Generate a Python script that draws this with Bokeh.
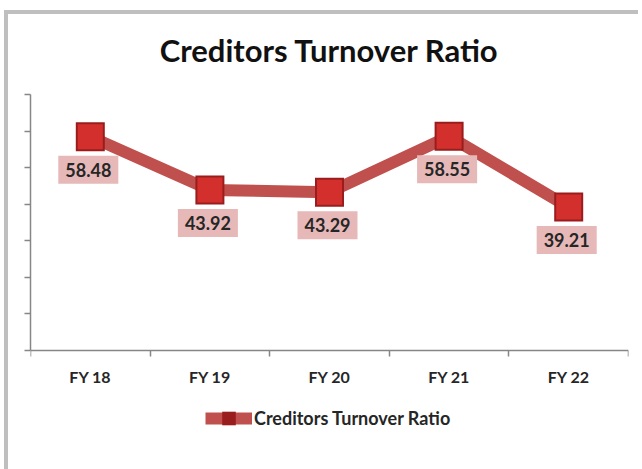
from bokeh.plotting import figure
from bokeh.models import (Range1d, FixedTicker, Legend, LegendItem, ColumnDataSource, Label)
from bokeh.embed import file_html
from bokeh.resources import INLINE

# ---- data ----
categories = ["FY 18", "FY 19", "FY 20", "FY 21", "FY 22"]
values = [58.48, 43.92, 43.29, 58.55, 39.21]
title_text = "Creditors Turnover Ratio"
series_name = "Creditors Turnover Ratio"
y_ticks = [0, 10, 20, 30, 40, 50, 60, 70]

FONT = "Lato"
TXT = "#262626"
LINE = "#c0504d"

xs = [i + 0.5 for i in range(len(categories))]
src = ColumnDataSource(dict(x=xs, y=values, cat=categories))

# frame extends below the value axis so the legend can sit inside it
axis_px = 256          # height of the 0..70 value span
frame_h = 375
y_top = y_ticks[-1]
y_bottom = -(frame_h - axis_px) * y_top / axis_px

p = figure(frame_width=598, frame_height=frame_h, output_backend="svg", toolbar_location=None,
           x_range=Range1d(0, len(categories)), y_range=Range1d(y_bottom, y_top),
           min_border_left=30, min_border_right=10, min_border_top=94,
           min_border_bottom=0)
p.styles = {"background": "linear-gradient(#bfbfbf,#bfbfbf) 4px 10px / 4px 100% no-repeat, "
                          "linear-gradient(#bfbfbf,#bfbfbf) 4px 10px / 100% 4px no-repeat"}
p.outline_line_color = None
p.xgrid.visible = False
p.ygrid.visible = False
p.background_fill_color = "white"
p.border_fill_color = None

# title
p.title.text = title_text
p.title.align = "center"
p.title.text_font = FONT
p.title.text_font_style = "bold"
p.title.text_font_size = "31px"
p.title.text_color = "#111111"
p.title.standoff = 52

# x axis: labels at centres, ticks at category boundaries, pinned at value 0
p.xaxis.fixed_location = 0
p.xaxis.ticker = FixedTicker(ticks=xs, minor_ticks=list(range(len(categories) + 1)))
p.xaxis.major_label_overrides = {x: c for x, c in zip(xs, categories)}
p.xaxis.major_tick_out = 0
p.xaxis.major_tick_in = 0
p.xaxis.minor_tick_out = 6
p.xaxis.minor_tick_in = 0
p.xaxis.minor_tick_line_color = "#868686"
p.xaxis.minor_tick_line_width = 1.5
p.xaxis.axis_line_color = "#868686"
p.xaxis.axis_line_width = 1.5
p.xaxis.major_label_text_font = FONT
p.xaxis.major_label_text_font_style = "bold"
p.xaxis.major_label_text_font_size = "16px"
p.xaxis.major_label_text_color = TXT
p.xaxis.major_label_standoff = 10

# y axis: ticks only, line limited to 0..70
p.yaxis.ticker = FixedTicker(ticks=y_ticks)
p.yaxis.bounds = (y_ticks[0], y_ticks[-1])
p.yaxis.major_label_overrides = {t: "" for t in y_ticks}
p.yaxis.minor_tick_line_color = None
p.yaxis.major_tick_out = 6
p.yaxis.major_tick_in = 0
p.yaxis.major_tick_line_color = "#868686"
p.yaxis.major_tick_line_width = 1.5
p.yaxis.axis_line_color = "#868686"
p.yaxis.axis_line_width = 1.5
p.yaxis.major_label_standoff = 0

# line and markers
ln = p.line("x", "y", source=src, line_color=LINE, line_width=12, line_join="round")
mk = p.scatter("x", "y", source=src, marker="square", size=29, fill_color="#9a1d1d",
               line_color=None)
p.scatter("x", "y", source=src, marker="square", size=25, fill_color="#d3302d",
          line_color=None)

# data labels
for x, v in zip(xs, values):
    p.add_layout(Label(x=x, y=v, text=f"{v:.2f}", x_offset=-2, y_offset=-33,
                       text_align="center", text_baseline="middle",
                       text_font=FONT, text_font_style="bold", text_font_size="18px",
                       text_color=TXT, background_fill_color="#e6b9b8",
                       padding=7))

# legend
legend = Legend(items=[LegendItem(label=series_name, renderers=[ln, mk])],
                location=(175, 34), orientation="horizontal",
                glyph_width=47, glyph_height=34, label_standoff=2,
                padding=0, margin=0, spacing=0, border_line_color=None,
                background_fill_alpha=0,
                label_text_font=FONT, label_text_font_style="bold",
                label_text_font_size="18px", label_text_color=TXT)
p.add_layout(legend, "center")

open("out.html", "w").write(file_html(p, INLINE))
